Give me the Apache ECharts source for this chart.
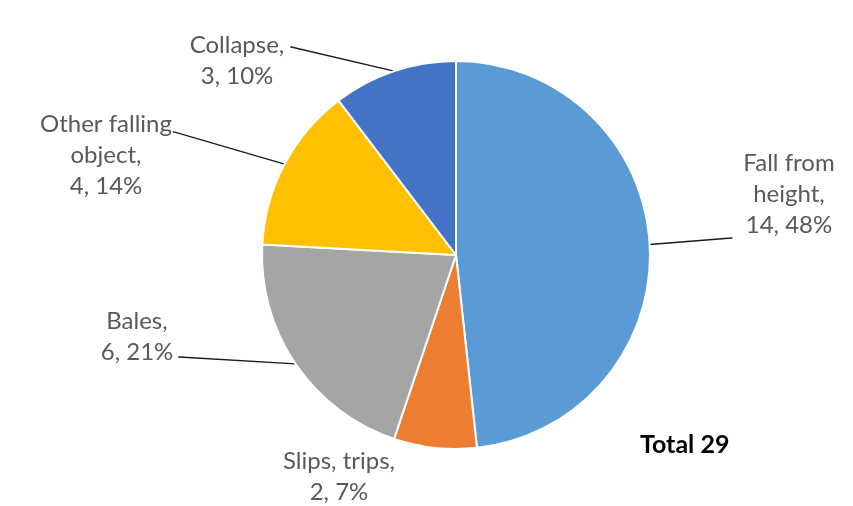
<!DOCTYPE html>
<html>
<head>
<meta charset="utf-8">
<script src="https://cdn.jsdelivr.net/npm/echarts@6/dist/echarts.min.js"></script>
<style>html,body{margin:0;padding:0;background:#fff;}#c{width:853px;height:506px;}</style>
</head>
<body>
<div id="c"></div>
<script>
const categories = ['Fall from height', 'Slips, trips', 'Bales', 'Other falling object', 'Collapse'];
const labelTexts = ['Fall from\nheight', 'Slips, trips', 'Bales', 'Other falling\nobject', 'Collapse'];
const values = [14, 2, 6, 4, 3];
const colors = ['#5B9BD5', '#ED7D31', '#A5A5A5', '#FFC000', '#4472C4'];
const totalLabel = 'Total 29';

// label layout: text centre and box padding [top, right, bottom, left]
// (the padding moves the point where the leader line meets the label box)
const LINE_H = 31;
const labelCentre = [[789, 194], [339, 477], [137, 337], [106, 155], [237, 60.5]];
const labelPadding = [[0, 0, 88, 11], [0, 0, 0, 0], [0, 5, 40, 0], [46, 1, 0, 0], [27, 6, 0, 0]];

const chart = echarts.init(document.getElementById('c'));
chart.setOption({
  animation: false,
  title: {
    text: totalLabel, left: 640, top: 430, padding: 0,
    textStyle: {fontFamily: 'Lato', fontWeight: 'bold', fontSize: 25, lineHeight: 30, color: '#000'}
  },
  series: [{
    type: 'pie',
    center: [456, 255],
    radius: 194,
    startAngle: 90,
    percentPrecision: 0,
    itemStyle: {borderColor: '#fff', borderWidth: 2},
    data: categories.map((n, i) => ({
      name: n, value: values[i], itemStyle: {color: colors[i]},
      labelLine: {show: i !== 1},
      label: {padding: labelPadding[i]}
    })),
    label: {
      show: true,
      formatter: p => labelTexts[p.dataIndex] + ',\n' + p.value + ', ' + p.percent + '%',
      fontFamily: 'Lato', fontSize: 24, lineHeight: LINE_H, color: '#595959', align: 'center',
      backgroundColor: 'rgba(255,255,255,0)', overflow: 'none'
    },
    labelLine: {show: true, length: 20, length2: 1, smooth: false, lineStyle: {color: '#1a1a1a', width: 1.3}},
    labelLayout: p => {
      const i = p.dataIndex;
      const [tx, ty] = labelCentre[i];
      const [pt, pr, pb, pl] = labelPadding[i];
      const nLines = labelTexts[i].split('\n').length + 1;
      return {
        x: tx + (pr - pl) / 2,
        y: ty - nLines * LINE_H / 2 - pt,
        align: 'center', verticalAlign: 'top'
      };
    }
  }]
});
</script>
</body>
</html>
